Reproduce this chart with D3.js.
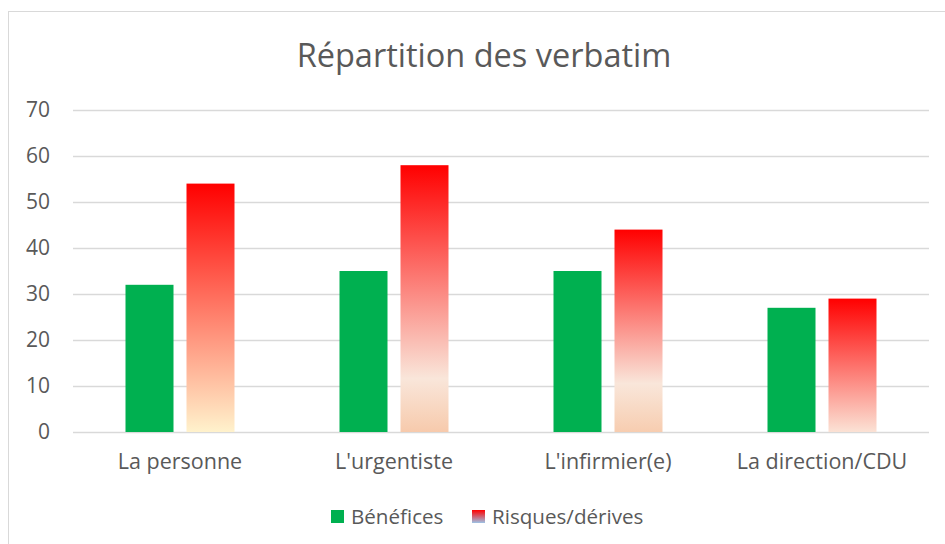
<!DOCTYPE html>
<html>
<head>
<meta charset="utf-8">
<script src="https://cdn.jsdelivr.net/npm/d3@7"></script>
<style>
  body { margin: 0; background: #fff; }
  text { font-family: "Open Sans", "Liberation Sans", sans-serif; fill: #595959; }
</style>
</head>
<body>
<div id="chart"></div>
<script>
var categories = ["La personne", "L'urgentiste", "L'infirmier(e)", "La direction/CDU"];
var seriesNames = ["Bénéfices", "Risques/dérives"];
var benefices = [32, 35, 35, 27];
var risques = [54, 58, 44, 29];
var yTicks = [0, 10, 20, 30, 40, 50, 60, 70];

// gradient stops for each red bar (style only)
var riskGradients = [
  [[0, "#ff0000"], [1, "#fff2cc"]],
  [[0, "#ff0000"], [0.8, "#f9e6da"], [1, "#f7caac"]],
  [[0, "#ff0000"], [0.76, "#f9e6da"], [1, "#f7cdb0"]],
  [[0, "#ff0000"], [1, "#fbe2d5"]]
];

var param = {
  width: 945,
  height: 544,
  left: 73,
  right: 929,
  top: 110,
  bottom: 432
};

var svg = d3.select("#chart")
            .append("svg")
            .attr("width", param.width)
            .attr("height", param.height);

var defs = svg.append("defs");

riskGradients.forEach(function(stops, i) {
  var g = defs.append("linearGradient")
              .attr("id", "risk" + i)
              .attr("x1", 0).attr("y1", 0)
              .attr("x2", 0).attr("y2", 1);
  stops.forEach(function(s) {
    g.append("stop").attr("offset", s[0]).attr("stop-color", s[1]);
  });
});

var legendGrad = defs.append("linearGradient")
                     .attr("id", "riskLegend")
                     .attr("x1", 0).attr("y1", 0)
                     .attr("x2", 0).attr("y2", 1);
legendGrad.append("stop").attr("offset", 0).attr("stop-color", "#ff0000");
legendGrad.append("stop").attr("offset", 1).attr("stop-color", "#9dc3e6");

// chart border
svg.append("rect")
   .attr("x", 8.5)
   .attr("y", 11.5)
   .attr("width", 960)
   .attr("height", 560)
   .style("fill", "none")
   .style("stroke", "#d9d9d9")
   .style("stroke-width", 1);

var y = d3.scaleLinear()
          .domain([0, 70])
          .range([param.bottom, param.top]);

var x0 = d3.scaleBand()
           .domain(categories)
           .range([param.left, param.right]);

var x1 = d3.scaleBand()
           .domain(seriesNames)
           .range([0, 109])
           .paddingInner(13 / 61);

// gridlines
var yAxis = d3.axisLeft(y)
              .tickValues(yTicks)
              .tickSize(-(param.right - param.left))
              .tickPadding(23);

var gy = svg.append("g")
            .attr("transform", "translate(" + param.left + ",0)")
            .call(yAxis);
gy.select(".domain").remove();
gy.selectAll(".tick line")
  .style("stroke", "#d9d9d9")
  .style("stroke-width", 1.5);
gy.selectAll(".tick text")
  .style("font-size", "21px")
  .style("fill", "#595959");

var groups = svg.selectAll(".cat")
                .data(categories)
                .enter()
                .append("g")
                .attr("class", "cat")
                .attr("transform", function(d) {
                  return "translate(" + (x0(d) + x0.bandwidth() / 2 - 54.5) + ",0)";
                });

groups.append("rect")
      .attr("x", x1(seriesNames[0]))
      .attr("y", function(d, i) { return y(benefices[i]); })
      .attr("width", x1.bandwidth())
      .attr("height", function(d, i) { return y(0) - y(benefices[i]); })
      .style("fill", "#00b050");

groups.append("rect")
      .attr("x", x1(seriesNames[1]))
      .attr("y", function(d, i) { return y(risques[i]); })
      .attr("width", x1.bandwidth())
      .attr("height", function(d, i) { return y(0) - y(risques[i]); })
      .style("fill", function(d, i) { return "url(#risk" + i + ")"; });

// category labels
var xAxis = d3.axisBottom(x0).tickSize(0).tickPadding(22);
var gx = svg.append("g")
            .attr("transform", "translate(0," + param.bottom + ")")
            .call(xAxis);
gx.select(".domain").remove();
gx.selectAll(".tick text")
  .style("font-size", "21.5px")
  .style("fill", "#595959");

// title
svg.append("text")
   .attr("x", 484)
   .attr("y", 67)
   .attr("text-anchor", "middle")
   .style("font-size", "32.5px")
   .text("Répartition des verbatim");

// legend
var legend = svg.append("g");
var legendX = [331, 472];
seriesNames.forEach(function(name, i) {
  legend.append("rect")
        .attr("x", legendX[i])
        .attr("y", 510)
        .attr("width", 13)
        .attr("height", 13)
        .style("fill", i === 0 ? "#00b050" : "url(#riskLegend)");
  legend.append("text")
        .attr("x", legendX[i] + 20)
        .attr("y", 524)
        .style("font-size", "20.6px")
        .text(name);
});
</script>
</body>
</html>
